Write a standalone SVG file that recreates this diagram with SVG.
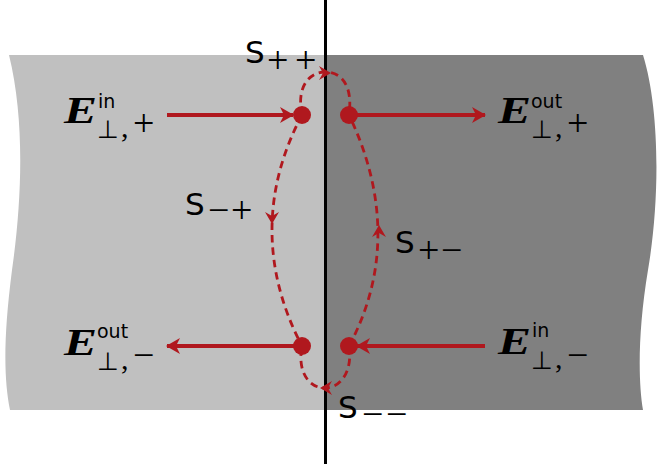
<svg xmlns="http://www.w3.org/2000/svg" width="658" height="464" viewBox="0 0 658 464">
<style>
.red{stroke:#b0181e;fill:none}
.solid{stroke-width:4}
.dash{stroke-width:2.8;stroke-dasharray:7.5 5}
.dot{fill:#b0181e}
.ah{fill:#b0181e}
.E{font-family:"Liberation Serif",serif;font-weight:bold;font-style:italic;font-size:38px;fill:#000}
.sup{font-family:"DejaVu Sans","Liberation Sans",sans-serif;font-size:19px;fill:#000}
.perp{font-family:"DejaVu Sans",sans-serif;font-size:25px;fill:#000}
.cm{font-family:"Liberation Serif",serif;font-size:30px;fill:#000}
.pm{font-family:"Liberation Serif","DejaVu Serif",serif;font-size:38px;fill:#000}
.S{font-family:"DejaVu Sans","Liberation Sans",sans-serif;font-size:31px;fill:#000}
</style>
<defs>
<marker id="big" viewBox="0 0 14 16" refX="13" refY="8" markerWidth="14" markerHeight="16" orient="auto" markerUnits="userSpaceOnUse">
<path d="M0,0 L14,8 L0,16 L4,8 Z" fill="#b0181e"/>
</marker>
<path id="dart" d="M0,0 L-12,-7 L-8,0 L-12,7 Z"/>
</defs>
<g id="media">
<path id="left-medium" d="M9,55 C25,120 22,200 12,270 C3,340 4,380 10,410 L325,410 L325,55 Z" fill="#c0c0c0"/>
<path id="right-medium" d="M325,55 L643,55 C660,110 660,200 648,270 C638,330 638,380 643,410 L325,410 Z" fill="#808080"/>
</g>
<g id="interface">
<line x1="325.5" y1="0" x2="325.5" y2="464" stroke="#000" stroke-width="3"/>
</g>
<g id="connectors">
<line class="red solid" x1="167" y1="115" x2="293" y2="115" marker-end="url(#big)"/>
<line class="red solid" x1="349" y1="115" x2="485" y2="115" marker-end="url(#big)"/>
<line class="red solid" x1="302" y1="346" x2="167" y2="346" marker-end="url(#big)"/>
<line class="red solid" x1="485" y1="346" x2="357" y2="346" marker-end="url(#big)"/>
<path class="red dash" d="M302,115 C296,86 310,72 325,72 C342,72 353,86 349,115"/>
<path class="red dash" d="M349,346 C353,372 340,388 325,388 C309,388 297,372 302,346"/>
<path class="red dash" d="M302,115 C262,190 262,270 302,346"/>
<path class="red dash" d="M349,346 C390,270 385,190 349,115"/>
<use href="#dart" class="ah" transform="translate(331,73)"/>
<use href="#dart" class="ah" transform="translate(320,388) rotate(180)"/>
<use href="#dart" class="ah" transform="translate(272,224) rotate(90)"/>
<use href="#dart" class="ah" transform="translate(379,225) rotate(-90)"/>
</g>
<g id="ports">
<circle class="dot" cx="302" cy="115" r="9"/>
<circle class="dot" cx="349" cy="115" r="9"/>
<circle class="dot" cx="302" cy="346" r="9"/>
<circle class="dot" cx="349" cy="346" r="9"/>
</g>
<g id="label-Ein-plus">
<text class="E" x="64" y="123" textLength="33" lengthAdjust="spacingAndGlyphs">E</text>
<text class="sup" x="98" y="108">in</text>
<text class="perp" x="97" y="138">⊥</text>
<text class="cm" x="121" y="137">,</text>
<text class="pm" x="133" y="135.6">+</text>
</g>
<g id="label-Eout-plus">
<text class="E" x="498" y="123" textLength="33" lengthAdjust="spacingAndGlyphs">E</text>
<text class="sup" x="531" y="108">out</text>
<text class="perp" x="531" y="138">⊥</text>
<text class="cm" x="555" y="137">,</text>
<text class="pm" x="567" y="135.6">+</text>
</g>
<g id="label-Eout-minus">
<text class="E" x="64" y="355" textLength="33" lengthAdjust="spacingAndGlyphs">E</text>
<text class="sup" x="97" y="338">out</text>
<text class="perp" x="97" y="370">⊥</text>
<text class="cm" x="121" y="369">,</text>
<text class="pm" x="133" y="367.6">−</text>
</g>
<g id="label-Ein-minus">
<text class="E" x="498" y="354" textLength="33" lengthAdjust="spacingAndGlyphs">E</text>
<text class="sup" x="532" y="337">in</text>
<text class="perp" x="531" y="369">⊥</text>
<text class="cm" x="555" y="368">,</text>
<text class="pm" x="567" y="367.6">−</text>
</g>
<g id="label-Spp">
<text class="S" x="245" y="63">S</text>
<text class="pm" x="267" y="73">+</text>
<text class="pm" x="295" y="73">+</text>
</g>
<g id="label-Smp">
<text class="S" x="185" y="215">S</text>
<text class="pm" x="208" y="222.6">−</text>
<text class="pm" x="231" y="222.6">+</text>
</g>
<g id="label-Spm">
<text class="S" x="395" y="253">S</text>
<text class="pm" x="418" y="262.6">+</text>
<text class="pm" x="441" y="262.6">−</text>
</g>
<g id="label-Smm">
<text class="S" x="338" y="418">S</text>
<text class="pm" x="362" y="426.6">−</text>
<text class="pm" x="386" y="426.6">−</text>
</g>
</svg>
